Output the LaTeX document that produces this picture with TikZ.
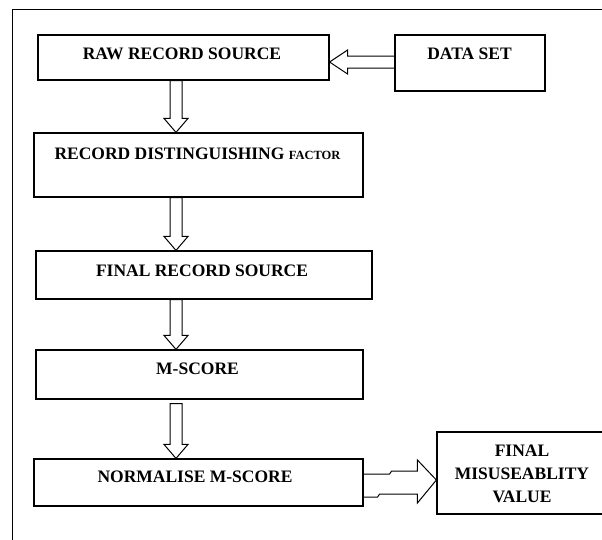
\documentclass[tikz,border=0pt]{standalone}
\usepackage{fontspec}
\setmainfont{Liberation Serif}
\usetikzlibrary{calc,positioning}

%% hollow block arrow going down from one box to the next (#3 = gap below the first box)
\newcommand\hollowDown[3]{
	\coordinate (tmpTail) at ($(vAxis |- #1.south)+(0,#3)$);
	\coordinate (tmpTip) at (vAxis |- #2.north);
	\draw[arrline] ($(tmpTail)+(-6,0)$) -- ($(tmpTip)+(-6,-14)$) -- ($(tmpTip)+(-12,-14)$) -- (tmpTip) -- ($(tmpTip)+(12,-14)$) -- ($(tmpTip)+(6,-14)$) -- ($(tmpTail)+(6,0)$) -- cycle;
}

\begin{document}
\begin{tikzpicture}[x=1pt,y=-1pt,
	blk/.style={draw=black,line width=1.2pt,inner sep=0pt},
	lbl/.style={font=\fontsize{17.5}{23}\selectfont\bfseries,inner sep=0pt,anchor=base,align=center},
	arrline/.style={draw=black,line width=1pt,line join=miter}]
	
	\useasboundingbox (0,0) rectangle (602,539);
	\clip (0,0) rectangle (602,539);
	
	%% OUTER FRAME
	\draw[line width=1.2pt] (12.5,620) -- (12.5,9.5) -- (680,9.5);
	
	%% BOXES
	\node[blk,minimum width=291pt,minimum height=45pt] (raw) at (183.5,57.5) {};
	\node[blk,minimum width=150pt,minimum height=56pt] (data) at (470,63) {};
	\node[blk,minimum width=329pt,minimum height=64pt] (recdist) at (198.5,165) {};
	\node[blk,minimum width=336pt,minimum height=48pt] (finrec) at (204,275) {};
	\node[blk,minimum width=327pt,minimum height=49pt] (mscore) at (199.5,374.5) {};
	\node[blk,minimum width=329pt,minimum height=47pt] (norm) at (198.5,482.5) {};
	\node[blk,minimum width=169pt,minimum height=82pt] (final) at (521.5,473) {};
	
	%% TEXTS
	\node[lbl] (rawtxt) at (182,59.5) {RAW RECORD SOURCE};
	\node[lbl] (datatxt) at (469.5,59.5) {DATA SET};
	\node[lbl] (recdisttxt) at (197.5,159.5) {RECORD DISTINGUISHING {\fontsize{12.5}{14}\selectfont FACTOR}};
	\node[lbl] (finrectxt) at (202,276) {FINAL RECORD SOURCE};
	\node[lbl] (mscoretxt) at (197.5,374.5) {M-SCORE};
	\node[lbl] (normtxt) at (195,482.5) {NORMALISE M-SCORE};
	\node[lbl] (finaltxt) at (522,502) {FINAL\\MISUSEABLITY\\VALUE};
	
	%% DATA SET INTO RAW RECORD SOURCE
	\coordinate (hAxis) at (0,62);
	\coordinate (dsTail) at (data.west |- hAxis);
	\coordinate (dsTip) at (raw.east |- hAxis);
	\draw[arrline] ($(dsTail)+(0,-6)$) -- ($(dsTip)+(18,-6)$) -- ($(dsTip)+(18,-12)$) -- (dsTip) -- ($(dsTip)+(18,12)$) -- ($(dsTip)+(18,6)$) -- ($(dsTail)+(0,6)$);
	
	%% DOWNWARD CHAIN
	\coordinate (vAxis) at (176,0);
	\hollowDown{raw}{recdist}{0}
	\hollowDown{recdist}{finrec}{0}
	\hollowDown{finrec}{mscore}{0}
	\hollowDown{mscore}{norm}{4}
	
	%% NORMALISED SCORE INTO FINAL VALUE
	\coordinate (nfTail) at (norm.east);
	\coordinate (nfTip) at ($(final.west)+(0,7)$);
	\draw[arrline] ($(nfTail)+(0,-8.5)$) -- ($(nfTail)+(26,-8.5)$) -- ($(nfTail)+(28,-11.5)$) -- ($(nfTip)+(-19,-9)$) -- ($(nfTip)+(-19,-20)$) -- (nfTip) -- ($(nfTip)+(-19,23)$) -- ($(nfTip)+(-19,14)$) -- ($(nfTail)+(16,11.5)$) -- ($(nfTail)+(14,14.5)$) -- ($(nfTail)+(0,14.5)$);
	
\end{tikzpicture}
\end{document}
